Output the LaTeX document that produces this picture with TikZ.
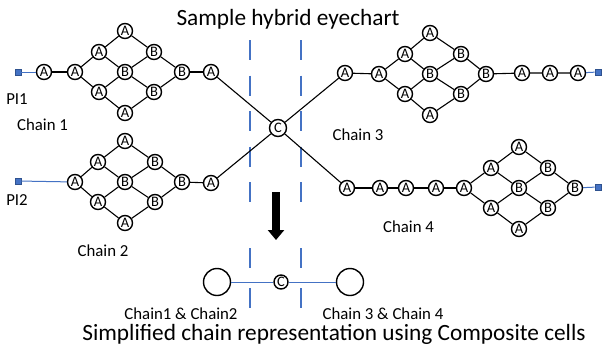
\documentclass[tikz,border=0pt]{standalone}
\usepackage{fontspec}
\setmainfont{Carlito}
\usetikzlibrary{arrows.meta}
\definecolor{obl}{RGB}{68,114,196}
\definecolor{obld}{RGB}{47,82,143}
\newcommand\mydia[7]{%
 \node[cell] (#1l) at (#2,#7) {A};
 \node[cell] (#1ul) at (#3,#7-20) {A};
 \node[cell] (#1t) at (#4,#7-41) {A};
 \node[cell] (#1ur) at (#5,#7-20) {B};
 \node[cell] (#1c) at (#4,#7) {B};
 \node[cell] (#1r) at (#6,#7) {B};
 \node[cell] (#1ll) at (#3,#7+20) {A};
 \node[cell] (#1b) at (#4,#7+41) {A};
 \node[cell] (#1lr) at (#5,#7+20) {B};
 \draw[wire] (#1l)--(#1ul)--(#1t)--(#1ur)--(#1r)--(#1lr)--(#1b)--(#1ll)--(#1l);
 \draw[wire] (#1ul)--(#1c)--(#1lr) (#1ll)--(#1c)--(#1ur);
}
\begin{document}
\begin{tikzpicture}[x=1pt,y=-1pt,
  cell/.style={circle,draw,line width=1.4pt,minimum size=15pt,inner sep=0pt,fill=white,font=\fontsize{14.5}{14.5}\selectfont},
  ccell/.style={cell,minimum size=17pt},
  bigcell/.style={circle,draw,line width=1.4pt,minimum size=27pt,inner sep=0pt},
  wire/.style={draw=black,line width=1.1pt},
  bwire/.style={draw=obl,line width=1pt},
  pin/.style={rectangle,draw=obld,fill=obl,line width=0.6pt,minimum size=6pt,inner sep=0pt},
  dashline/.style={draw=obl,line width=1.1pt},
  lab/.style={anchor=base,font=\fontsize{16.8}{18}\selectfont,inner sep=0pt},
  big/.style={anchor=base,font=\fontsize{23.3}{26}\selectfont,inner sep=0pt}]
\useasboundingbox (0,0) rectangle (602,354);
\fill[white] (0,0) rectangle (602,354);
% titles
\node[big] (title) at (288,25.5) {Sample hybrid eyechart};
\node[big] (subtitle) at (334,340) {Simplified chain representation using Composite cells};
% dashed lines
\coordinate (d1a) at (250,40); \coordinate (d1b) at (250,203);
\coordinate (d2a) at (301,40); \coordinate (d2b) at (301,203);
\coordinate (d3a) at (250,248); \coordinate (d3b) at (250,308);
\coordinate (d4a) at (301,248); \coordinate (d4b) at (301,308);
\draw[dashline,dash pattern=on 20pt off 15.5pt] (d1a)--(d1b) (d2a)--(d2b);
\draw[dashline,dash pattern=on 20pt off 20pt] (d3a)--(d3b) (d4a)--(d4b);
% chain 1
\node[pin] (s1) at (18,72) {};
\node[cell] (a11) at (44,72) {A};
\mydia{p}{75}{99}{125}{154}{182}{72}
\node[cell] (a12) at (211,72) {A};
\draw[bwire] (s1)--(a11);
\draw[wire] (a11)--(pl) (pr)--(a12);
% chain 2
\node[pin] (s2) at (18,181) {};
\mydia{q}{75}{98}{125}{155}{182}{182}
\node[cell] (a21) at (211,183) {A};
\draw[bwire] (s2)--(ql);
\draw[wire] (qr)--(a21);
% chain 3
\node[cell] (a31) at (345,73) {A};
\mydia{u}{379}{405}{430}{461}{486}{74}
\node[cell] (a32) at (522,73) {A};
\node[cell] (a33) at (550,73) {A};
\node[cell] (a34) at (578,73) {A};
\node[pin] (s3) at (598,72) {};
\draw[wire] (a31)--(ul) (ur)--(a32)--(a33)--(a34);
\draw[bwire] (a34)--(s3);
% chain 4
\node[cell] (a41) at (347,188) {A};
\node[cell] (a42) at (380,188) {A};
\node[cell] (a43) at (406,188) {A};
\node[cell] (a44) at (436,188) {A};
\mydia{v}{464}{491}{519}{548}{575}{188}
\node[pin] (s4) at (598,187) {};
\draw[wire] (a41)--(a42)--(a43)--(a44)--(vl);
\draw[bwire] (vr)--(s4);
% composite cell
\node[ccell] (cc) at (278,128) {C};
\draw[wire] (a12)--(cc)--(a41) (a21)--(cc)--(a31);
% labels
\node[lab] (pi1) at (17,104) {PI1};
\node[lab] (pi2) at (17,205.5) {PI2};
\node[lab] (ch1) at (42.5,130.5) {Chain 1};
\node[lab] (ch2) at (103,256.5) {Chain 2};
\node[lab] (ch3) at (358,140.5) {Chain 3};
\node[lab] (ch4) at (408.5,232.5) {Chain 4};
% arrow
\coordinate (arT) at (276,192); \coordinate (arB) at (276,240);
\draw[line width=8pt,-{Triangle[width=16pt,length=10pt]}] (arT)--(arB);
% simplified
\node[bigcell] (cl) at (217,282) {};
\node[cell,minimum size=14pt] (c2) at (281,282) {C};
\node[bigcell] (cr) at (350,282) {};
\draw[bwire] (cl)--(c2)--(cr);
\node[lab] (l12) at (181,319) {Chain1 \& Chain2};
\node[lab] (l34) at (383,319) {Chain 3 \& Chain 4};
\end{tikzpicture}
\end{document}
